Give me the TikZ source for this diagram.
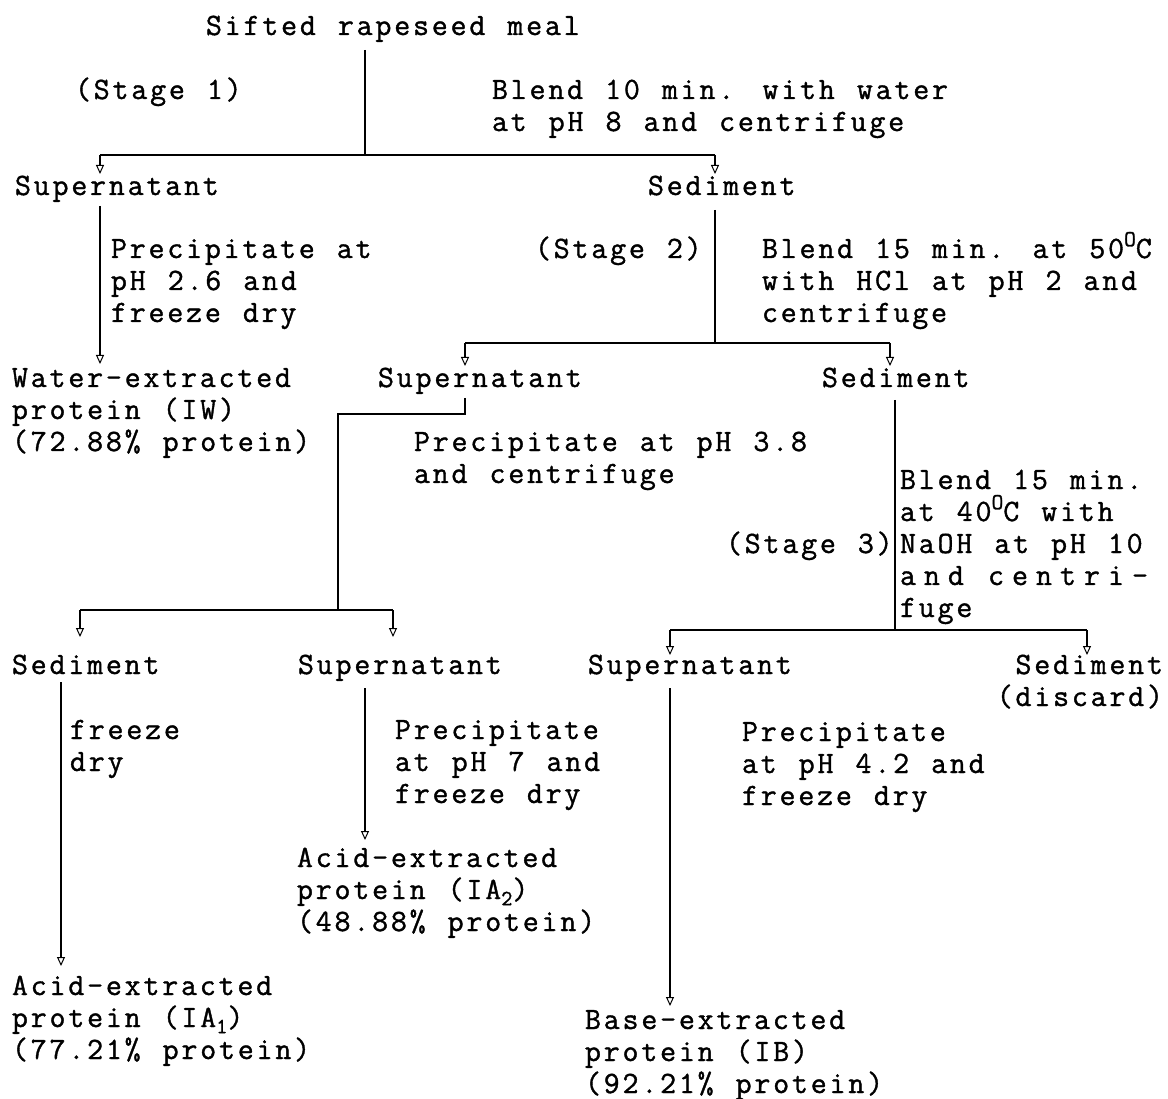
\documentclass[tikz,border=0pt]{standalone}
\usepackage{fontspec}
% typewriter face, widened to a 19pt character pitch and slightly heavier
\newfontfamily\tw{Latin Modern Mono}[LetterSpace=9.1, WordSpace=1.173, FakeBold=1.2]
\usetikzlibrary{arrows.meta}

\newcommand\lbl{\tw\fontsize{31}{32}\selectfont\lineskiplimit=-100pt\relax}
% multi-line blocks whose baseline is that of the first line; lines split by \nl
\newcommand\ml[1]{\vtop{\lbl\let\nl\cr\halign{##\hfil\cr#1\crcr}}}
\newcommand\mr[1]{\vtop{\lbl\let\nl\cr\halign{\hfil##\cr#1\crcr}}}
\newcommand\degO{\raise0.38em\hbox{\scalebox{0.74}{O}}}
\newcommand\subsc[1]{\lower0.2em\hbox{\scalebox{0.7}{#1}}}

\tikzset{
  txt/.style={anchor=base west, inner sep=0pt, outer sep=0pt},
  txtr/.style={anchor=base east, inner sep=0pt, outer sep=0pt},
  flow/.style={line width=1.2pt, black},
  arr/.style={flow, -{Triangle[open, length=9pt, width=8pt, line width=1pt]}},
}

\begin{document}
\begin{tikzpicture}[x=1pt, y=-1pt]
\useasboundingbox (0,0) rectangle (1168,1099);

% ---- stage 1 ----
\node[txt] (root)   at (206,35)  {\ml{Sifted rapeseed meal}};
\node[txt] (stageA) at (75,99)   {\ml{(Stage 1)}};
\node[txt] (blendA) at (492,99)  {\ml{Blend 10 min. with water\nl at pH 8 and centrifuge}};
\node[txt] (supA)   at (15,195)  {\ml{Supernatant}};
\node[txt] (sedA)   at (648,195) {\ml{Sediment}};
\node[txt] (precA)  at (111,258) {\ml{Precipitate at\nl pH 2.6 and\nl freeze dry}};
\node[txt] (iw)     at (12,387)  {\ml{Water-extracted\nl protein (IW)\nl (72.88\% protein)}};

% ---- stage 2 ----
\node[txt]  (stageB) at (535,258) {\ml{(Stage 2)}};
\node[txt]  (blendB) at (762,258) {\ml{Blend 15 min. at 50\degO C\nl with HCl at pH 2 and\nl centrifuge}};
\node[txt]  (supB)   at (378,387) {\ml{Supernatant}};
\node[txt]  (sedB)   at (822,387) {\ml{Sediment}};
\node[txt]  (precB)  at (414,451) {\ml{Precipitate at pH 3.8\nl and centrifuge}};

% ---- stage 3 ----
\node[txt]  (stageC) at (726,553) {\ml{(Stage 3)}};
\node[txt]  (blendC) at (900,489) {\ml{Blend 15 min.\nl at 40\degO C with\nl NaOH at pH 10\nl
  \hbox to 248pt{a\hfill n\hfill d\hfill\hfill\hfill c\hfill e\hfill n\hfill t\hfill r\hfill i\hfill -}\nl fuge}};

\node[txt]  (sedC)   at (12,674)  {\ml{Sediment}};
\node[txt]  (supC)   at (298,674) {\ml{Supernatant}};
\node[txt]  (supD)   at (588,674) {\ml{Supernatant}};
\node[txtr] (sedD)   at (1163,674) {\mr{Sediment\nl (discard)}};

\node[txt]  (fdA)    at (70,739)  {\ml{freeze\nl dry}};
\node[txt]  (precC)  at (395,739) {\ml{Precipitate\nl at pH 7 and\nl freeze dry}};
\node[txt]  (precD)  at (742,741) {\ml{Precipitate\nl at pH 4.2 and\nl freeze dry}};

\node[txt]  (ia2)    at (297,867) {\ml{Acid-extracted\nl protein (IA\subsc{2})\nl (48.88\% protein)}};
\node[txt]  (ia1)    at (12,995)  {\ml{Acid-extracted\nl protein (IA\subsc{1})\nl (77.21\% protein)}};
\node[txt]  (ib)     at (585,1029){\ml{Base-extracted\nl protein (IB)\nl (92.21\% protein)}};

% ---- junction and tip points ----
\coordinate (r0) at (365,50);
\coordinate (j1) at (365,155);
\coordinate (a1) at (100,155);  \coordinate (t1) at (100,174);
\coordinate (a2) at (715,155);  \coordinate (t2) at (715,174);
\coordinate (s1) at (100,206);  \coordinate (t3) at (100,364);
\coordinate (d1) at (715,210);  \coordinate (j2) at (715,343);
\coordinate (a3) at (465,343);  \coordinate (t4) at (465,366);
\coordinate (a4) at (890,343);  \coordinate (t5) at (890,366);
\coordinate (s2) at (465,398);  \coordinate (k2) at (465,414);
\coordinate (k3) at (338,414);  \coordinate (j3) at (338,610);
\coordinate (a5) at (80,610);   \coordinate (t6) at (80,637);
\coordinate (a6) at (393,610);  \coordinate (t7) at (393,637);
\coordinate (d2) at (895,400);  \coordinate (j4) at (895,630);
\coordinate (a7) at (670,630);  \coordinate (t8) at (670,655);
\coordinate (a8) at (1087,630); \coordinate (t9) at (1087,655);
\coordinate (s3) at (61,682);   \coordinate (t10) at (61,966);
\coordinate (s4) at (365,688);  \coordinate (t11) at (365,840);
\coordinate (s5) at (670,688);  \coordinate (t12) at (670,1006);

% ---- connectors ----
\draw[flow] (r0) -- (j1);
\draw[flow] (a1) -- (a2);
\draw[arr] (a1) -- (t1);
\draw[arr] (a2) -- (t2);
\draw[arr] (s1) -- (t3);

\draw[flow] (d1) -- (j2);
\draw[flow] (a3) -- (a4);
\draw[arr] (a3) -- (t4);
\draw[arr] (a4) -- (t5);

\draw[flow] (s2) -- (k2) -- (k3) -- (j3);
\draw[flow] (a5) -- (a6);
\draw[arr] (a5) -- (t6);
\draw[arr] (a6) -- (t7);

\draw[flow] (d2) -- (j4);
\draw[flow] (a7) -- (a8);
\draw[arr] (a7) -- (t8);
\draw[arr] (a8) -- (t9);

\draw[arr] (s3) -- (t10);
\draw[arr] (s4) -- (t11);
\draw[arr] (s5) -- (t12);
\end{tikzpicture}
\end{document}
